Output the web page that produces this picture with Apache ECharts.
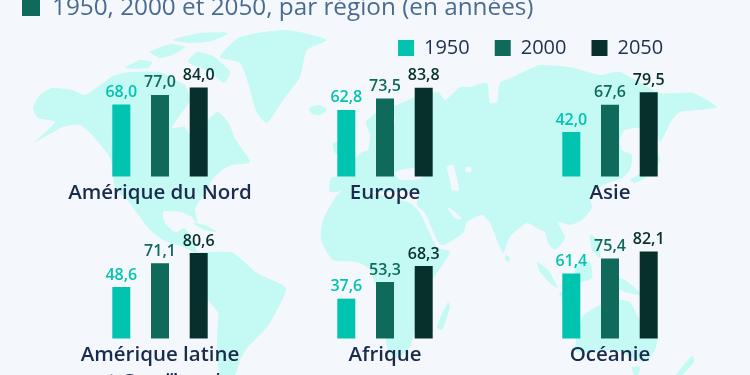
<!DOCTYPE html>
<html>
<head>
<meta charset="utf-8">
<style>
  html, body {margin: 0; padding: 0; background: #f4f8fc;}
  #chart {width: 750px; height: 375px;}
</style>
<script src="https://cdn.jsdelivr.net/npm/echarts@6/dist/echarts.min.js"></script>
</head>
<body>
<div id="chart"></div>
<script>
const regions = ['Amérique du Nord', 'Europe', 'Asie', 'Amérique latine\net Caraïbes *', 'Afrique', 'Océanie'];
const years = ['1950', '2000', '2050'];
const values1950 = [68.0, 62.8, 42.0, 48.6, 37.6, 61.4];
const values2000 = [77.0, 73.5, 67.6, 71.1, 53.3, 75.4];
const values2050 = [84.0, 83.8, 79.5, 80.6, 68.3, 82.1];
const yearValues = [values1950, values2000, values2050];
const yearColors = ['#00c4b0', '#0f6a5b', '#07302d'];

const bg = '#f4f8fc';
const land = '#c5f9f4';

// background map, traced by hand in page pixels
const landShapes = [
  // Amérique du Nord
  [[33,108],[40,95],[52,88],[72,90],[85,95],[100,85],[113,76],[130,72],[160,72],[175,80],[185,85],[190,100],[178,118],[172,128],[185,127],[195,143],[205,140],[208,120],[218,112],[228,122],[236,140],[250,162],[232,165],[222,170],[212,180],[207,192],[200,200],[195,210],[198,225],[192,217],[180,212],[168,211],[163,212],[165,223],[175,232],[185,228],[190,236],[197,253],[183,247],[163,240],[150,230],[127,200],[115,188],[110,158],[92,135],[80,125],[63,127],[35,142],[55,122],[38,118]],
  // Arctique
  [[125,68],[140,60],[152,62],[148,68]],
  [[150,52],[170,44],[185,47],[172,55],[160,58]],
  [[172,40],[200,33],[228,33],[212,41],[190,43]],
  [[188,62],[197,52],[213,56],[230,72],[224,83],[210,72]],
  // Groenland, Islande
  [[220,57],[240,37],[287,30],[327,40],[307,50],[300,77],[283,100],[267,123],[257,113],[248,83],[240,63]],
  [[309,108],[320,105],[327,110],[320,115],[312,114]],
  // Caraïbes
  [[192,223],[205,225],[217,232],[205,230]],
  // Amérique du Sud
  [[197,253],[208,252],[233,253],[257,273],[286,288],[277,310],[267,327],[248,347],[240,360],[235,375],[220,375],[217,337],[218,313],[208,300],[200,280]],
  // Eurasie
  [[330,192],[331,178],[342,175],[345,165],[355,158],[362,152],[368,150],[370,135],[366,122],[380,110],[397,105],[415,97],[438,92],[445,100],[460,87],[470,87],[487,83],[490,103],[497,102],[500,83],[513,77],[527,70],[540,65],[570,67],[600,75],[620,72],[660,93],[693,93],[717,107],[700,110],[680,112],[672,120],[660,142],[655,125],[645,127],[625,130],[620,140],[622,150],[632,155],[630,170],[622,178],[603,185],[590,195],[592,208],[582,220],[570,225],[558,222],[565,238],[555,250],[548,243],[545,232],[540,230],[527,223],[510,237],[503,253],[490,223],[482,215],[467,222],[463,233],[441,245],[425,213],[417,205],[417,192],[395,192],[375,192],[350,190]],
  [[333,143],[343,143],[344,153],[335,153]],
  // Afrique
  [[337,195],[345,190],[365,192],[385,196],[410,203],[420,213],[437,247],[450,252],[430,283],[417,307],[415,330],[410,347],[397,358],[388,350],[380,303],[370,270],[357,262],[333,260],[321,240],[323,220]],
  [[448,302],[450,307],[442,330],[437,327]],
  [[506,255],[510,258],[508,262],[505,259]],
  // Asie du Sud-Est, Japon
  [[655,148],[660,160],[650,175],[635,183],[630,180],[645,170]],
  [[537,262],[548,270],[558,288],[552,285],[540,272]],
  [[560,292],[580,297],[578,300],[560,296]],
  [[575,265],[590,262],[592,278],[578,282]],
  [[590,235],[598,240],[600,258],[592,250]],
  [[605,275],[625,280],[642,295],[625,292],[610,283]],
  // Océanie
  [[576,340],[583,316],[600,305],[612,307],[620,300],[630,302],[640,320],[657,335],[655,350],[645,362],[632,358],[615,350],[590,352],[576,352]],
  [[632,367],[640,367],[638,375],[634,375]],
  [[692,356],[694,362],[682,375],[676,375]]
];
const waterShapes = [
  [[395,172],[418,168],[422,178],[400,180]],
  [[447,167],[453,165],[459,190],[452,190],[450,180]],
  [[466,167],[471,167],[471,172],[466,172]],
  [[447,207],[455,212],[462,219],[455,218]],
  [[376,120],[392,112],[395,122],[388,140],[378,146],[382,132]]
];

const mapGraphics = landShapes.map(points => ({
  type: 'polygon', silent: true, z: -2,
  shape: {points, smooth: 0.2}, style: {fill: land}
})).concat(waterShapes.map(points => ({
  type: 'polygon', silent: true, z: -1,
  shape: {points, smooth: 0.2}, style: {fill: bg}
})));

const centers = [160, 385, 610];
const tops = [70.5, 232.5];
const grids = [], xAxes = [], yAxes = [], series = [];

regions.forEach((region, i) => {
  grids.push({
    left: centers[i % 3] - 70,
    top: tops[Math.floor(i / 3)],
    width: 140,
    height: 106,
    outerBoundsMode: 'none'
  });
  xAxes.push({
    gridIndex: i,
    type: 'category',
    data: [region],
    axisLine: {show: false},
    axisTick: {show: false},
    axisLabel: {interval: 0, margin: 3, color: '#1a2c4e', fontSize: 20.5, fontWeight: 600, lineHeight: 27, fontFamily: 'Open Sans'}
  });
  yAxes.push({gridIndex: i, type: 'value', min: 0, max: 100, show: false, splitLine: {show: false}});
  years.forEach((year, j) => {
    series.push({
      name: year,
      type: 'bar',
      xAxisIndex: i,
      yAxisIndex: i,
      data: [yearValues[j][i]],
      barWidth: 18,
      barGap: '115%',
      itemStyle: {color: yearColors[j]},
      label: {
        show: true,
        position: 'top',
        distance: 4,
        color: yearColors[j],
        fontSize: 16,
        fontWeight: 600,
        fontFamily: 'Open Sans',
        formatter: p => p.value.toFixed(1).replace('.', ',')
      }
    });
  });
});

const chart = echarts.init(document.getElementById('chart'), null, {renderer: 'canvas'});
chart.setOption({
  backgroundColor: bg,
  animation: false,
  title: {
    text: '1950, 2000 et 2050, par région (en années)',
    left: 52, top: -4, padding: 0,
    textStyle: {color: '#4a6b90', fontSize: 24.3, fontWeight: 400, fontFamily: 'Open Sans'}
  },
  legend: {
    data: years,
    left: 398, top: 38,
    padding: 0,
    icon: 'rect',
    itemWidth: 16, itemHeight: 16, itemGap: 25,
    selectedMode: false,
    textStyle: {color: '#1c3050', fontSize: 20, fontFamily: 'Open Sans', padding: [0, 0, 0, 5]}
  },
  graphic: mapGraphics.concat([{
    type: 'rect', silent: true, z: 1,
    shape: {x: 22, y: -4, width: 18, height: 20},
    style: {fill: '#0f6a5b'}
  }]),
  grid: grids,
  xAxis: xAxes,
  yAxis: yAxes,
  series
});
</script>
</body>
</html>
